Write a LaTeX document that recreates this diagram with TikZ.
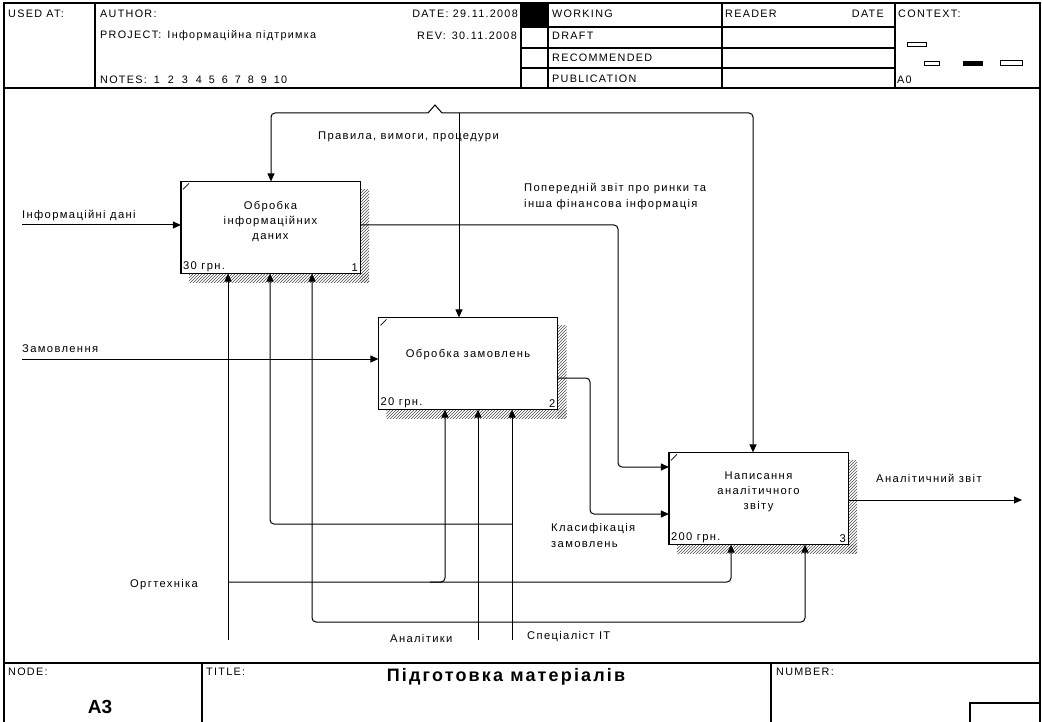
\documentclass[tikz,border=0pt]{standalone}
\usepackage{fontspec}
\setmainfont[LetterSpace=12]{Liberation Sans}
\newfontfamily\tightfont{Liberation Sans}
\usetikzlibrary{arrows.meta,positioning,patterns}

\begin{document}
\begin{tikzpicture}[x=1pt,y=-1pt,
    frame/.style={draw, line width=1.3pt},
    hdr/.style={anchor=west, inner sep=0pt, font=\fontsize{10.8}{12}\selectfont},
    func/.style={draw, line width=1.2pt, fill=white, minimum width=178pt, minimum height=91pt, inner sep=0pt},
    ftext/.style={align=center, inner sep=0pt, font=\fontsize{11.2}{15}\selectfont},
    cost/.style={inner sep=2pt, font=\fontsize{11.2}{12}\selectfont},
    shade/.style={pattern=north east lines, pattern color=black!70},
    flow/.style={line width=1pt, rounded corners=4pt, -{Triangle[length=8pt,width=7pt]}},
    link/.style={line width=1pt, rounded corners=4pt},
    lbl/.style={anchor=west, inner sep=0pt, align=left, font=\fontsize{11.2}{16}\selectfont}
]
\useasboundingbox (0,0) rectangle (1042,722);

% Header
\draw[frame] (4,3) rectangle (1040,88);
\foreach \xx in {95,521,548,722,895} \draw[frame] (\xx,3) -- (\xx,88);
\foreach \yy in {27,48,68} \draw[frame] (521,\yy) -- (895,\yy);
\fill (521,3) rectangle (548,27);
\node[hdr] (usedat) at (8,14) {USED AT:};
\node[hdr] (author) at (100,14) {AUTHOR:};
\node[hdr] (project) at (100,36) {PROJECT:\hspace{6pt}Інформаційна підтримка};
\node[hdr] (notes) at (100,80) {NOTES:\hspace{7pt}1\hspace{8pt}2\hspace{8pt}3\hspace{8pt}4\hspace{7pt}5\hspace{7pt}6\hspace{7pt}7\hspace{7pt}8\hspace{7pt}9\hspace{7pt}10};
\node[hdr, anchor=east] (date) at (518,14) {DATE: 29.11.2008};
\node[hdr] (rev) at (417,36) {REV:\hspace{6pt}30.11.2008};
\node[hdr] (working) at (552,14) {WORKING};
\node[hdr] (draft) at (552,36) {DRAFT};
\node[hdr] (recom) at (552,58) {RECOMMENDED};
\node[hdr] (publ) at (552,79) {PUBLICATION};
\node[hdr] (reader) at (725,14) {READER};
\node[hdr, anchor=east] (rdate) at (884,14) {DATE};
\node[hdr] (context) at (898,14) {CONTEXT:};
\node[hdr] (azero) at (897,80) {A0};
\draw[line width=1pt] (907,43) rectangle (926,47);
\draw[line width=1pt] (924,62) rectangle (939,66);
\fill (963,61) rectangle (983,66);
\draw[line width=1pt] (1000,61) rectangle (1022,66);

% Frame and footer
\draw[frame] (4,88) -- (4,722);
\draw[frame] (1040,88) -- (1040,722);
\draw[frame] (4,663) -- (1040,663);
\draw[frame] (202,663) -- (202,722);
\draw[frame] (771,663) -- (771,722);
\draw[frame] (970,722) -- (970,703) -- (1040,703);
\node[hdr] (nodelbl) at (8,672) {NODE:};
\node[hdr] (titlelbl) at (206,672) {TITLE:};
\node[hdr] (numberlbl) at (776,672) {NUMBER:};
\node[inner sep=0pt, font=\tightfont\fontsize{19}{20}\bfseries] (nodeno) at (100,707) {A3};
\node[inner sep=0pt, font=\fontsize{18}{20}\bfseries] (title) at (506,677) {Підготовка матеріалів};

% Functions
\node[func] (b1) at (270.5,227.5) {};
\node[func] (b2) at (468,363.5) {};
\node[func] (b3) at (758.5,498.5) {};
\foreach \bx in {b1,b2,b3} {
  \fill[shade] ([yshift=-8pt]\bx.north east) rectangle ([xshift=9pt,yshift=-9pt]\bx.south east);
  \fill[shade] ([xshift=8pt]\bx.south west) rectangle ([xshift=9pt,yshift=-9pt]\bx.south east);
  \draw[func] (\bx.north west) rectangle (\bx.south east);
  \draw[line width=0.7pt] ([shift={(2pt,-8pt)}]\bx.north west) -- ([shift={(8pt,-2pt)}]\bx.north west);
}
\node[ftext] (t1) at ([yshift=6pt]b1.center) {Обробка\\інформаційних\\даних};
\node[ftext] (t2) at ([yshift=9pt]b2.center) {Обробка замовлень};
\node[ftext] (t3) at ([yshift=7pt]b3.center) {Написання\\аналітичного\\звіту};
\node[cost, anchor=south west] (c1) at (b1.south west) {30 грн.};
\node[cost, anchor=south east] (n1) at (b1.south east) {1};
\node[cost, anchor=south west] (c2) at (b2.south west) {20 грн.};
\node[cost, anchor=south east] (n2) at (b2.south east) {2};
\node[cost, anchor=south west] (c3) at (b3.south west) {200 грн.};
\node[cost, anchor=south east] (n3) at (b3.south east) {3};

% Controls
\coordinate (ctlL) at (271,113);
\coordinate (ctlM) at (459,113);
\coordinate (ctlR) at (753,113);
\draw[flow] (428,113) -- (ctlL) -- (ctlL |- b1.north);
\draw[link, rounded corners=0pt] (428,113) -- (435,105) -- (442,113);
\draw[flow] (442,113) -- (ctlR) -- (ctlR |- b3.north);
\draw[flow] (ctlM) -- (ctlM |- b2.north);
\node[lbl] (lrules) at (318,137) {Правила, вимоги, процедури};

% Inputs
\coordinate (in1) at (22,225);
\coordinate (in2) at (22,359);
\draw[flow] (in1) -- (in1 -| b1.west);
\draw[flow] (in2) -- (in2 -| b2.west);
\node[lbl] (ldata) at (22,216) {Інформаційні дані};
\node[lbl] (lorders) at (22,349) {Замовлення};

% Outputs
\coordinate (out1a) at (618,225);
\coordinate (out1b) at (618,467);
\draw[flow] (b1.east |- out1a) -- (out1a) -- (out1b) -- (out1b -| b3.west);
\node[lbl] (lreport) at (524,197) {Попередній звіт про ринки та\\інша фінансова інформація};
\coordinate (out2a) at (590,378);
\coordinate (out2b) at (590,514);
\draw[flow] (b2.east |- out2a) -- (out2a) -- (out2b) -- (out2b -| b3.west);
\node[lbl] (lclass) at (551,535) {Класифікація\\замовлень};
\coordinate (out3) at (1022,500);
\draw[flow] (b3.east |- out3) -- (out3);
\node[lbl] (lanrep) at (876,478) {Аналітичний звіт};

% Mechanisms
\coordinate (mech1) at (228,640);
\coordinate (mech1r) at (731,582);
\coordinate (mech1m) at (445,582);
\draw[flow] (mech1) -- (mech1 |- b1.south);
\draw[flow] (mech1 |- mech1r) -- (mech1r) -- (mech1r |- b3.south);
\draw[flow] (430,582) -- (mech1m) -- (mech1m |- b2.south);
\node[lbl] (lorgt) at (130,585) {Оргтехніка};

\coordinate (mech2) at (478,640);
\coordinate (mech2l) at (312,622);
\coordinate (mech2r) at (805,622);
\draw[flow] (mech2) -- (mech2 |- b2.south);
\draw[flow] (mech2 |- mech2l) -- (mech2l) -- (mech2l |- b1.south);
\draw[flow] (mech2 |- mech2r) -- (mech2r) -- (mech2r |- b3.south);
\node[lbl] (lanalysts) at (390,638) {Аналітики};

\coordinate (mech3) at (512,640);
\coordinate (mech3l) at (270,524);
\draw[flow] (mech3) -- (mech3 |- b2.south);
\draw[flow] (mech3 |- mech3l) -- (mech3l) -- (mech3l |- b1.south);
\node[lbl] (lit) at (527,637) {Спеціаліст ІТ};
\end{tikzpicture}
\end{document}
